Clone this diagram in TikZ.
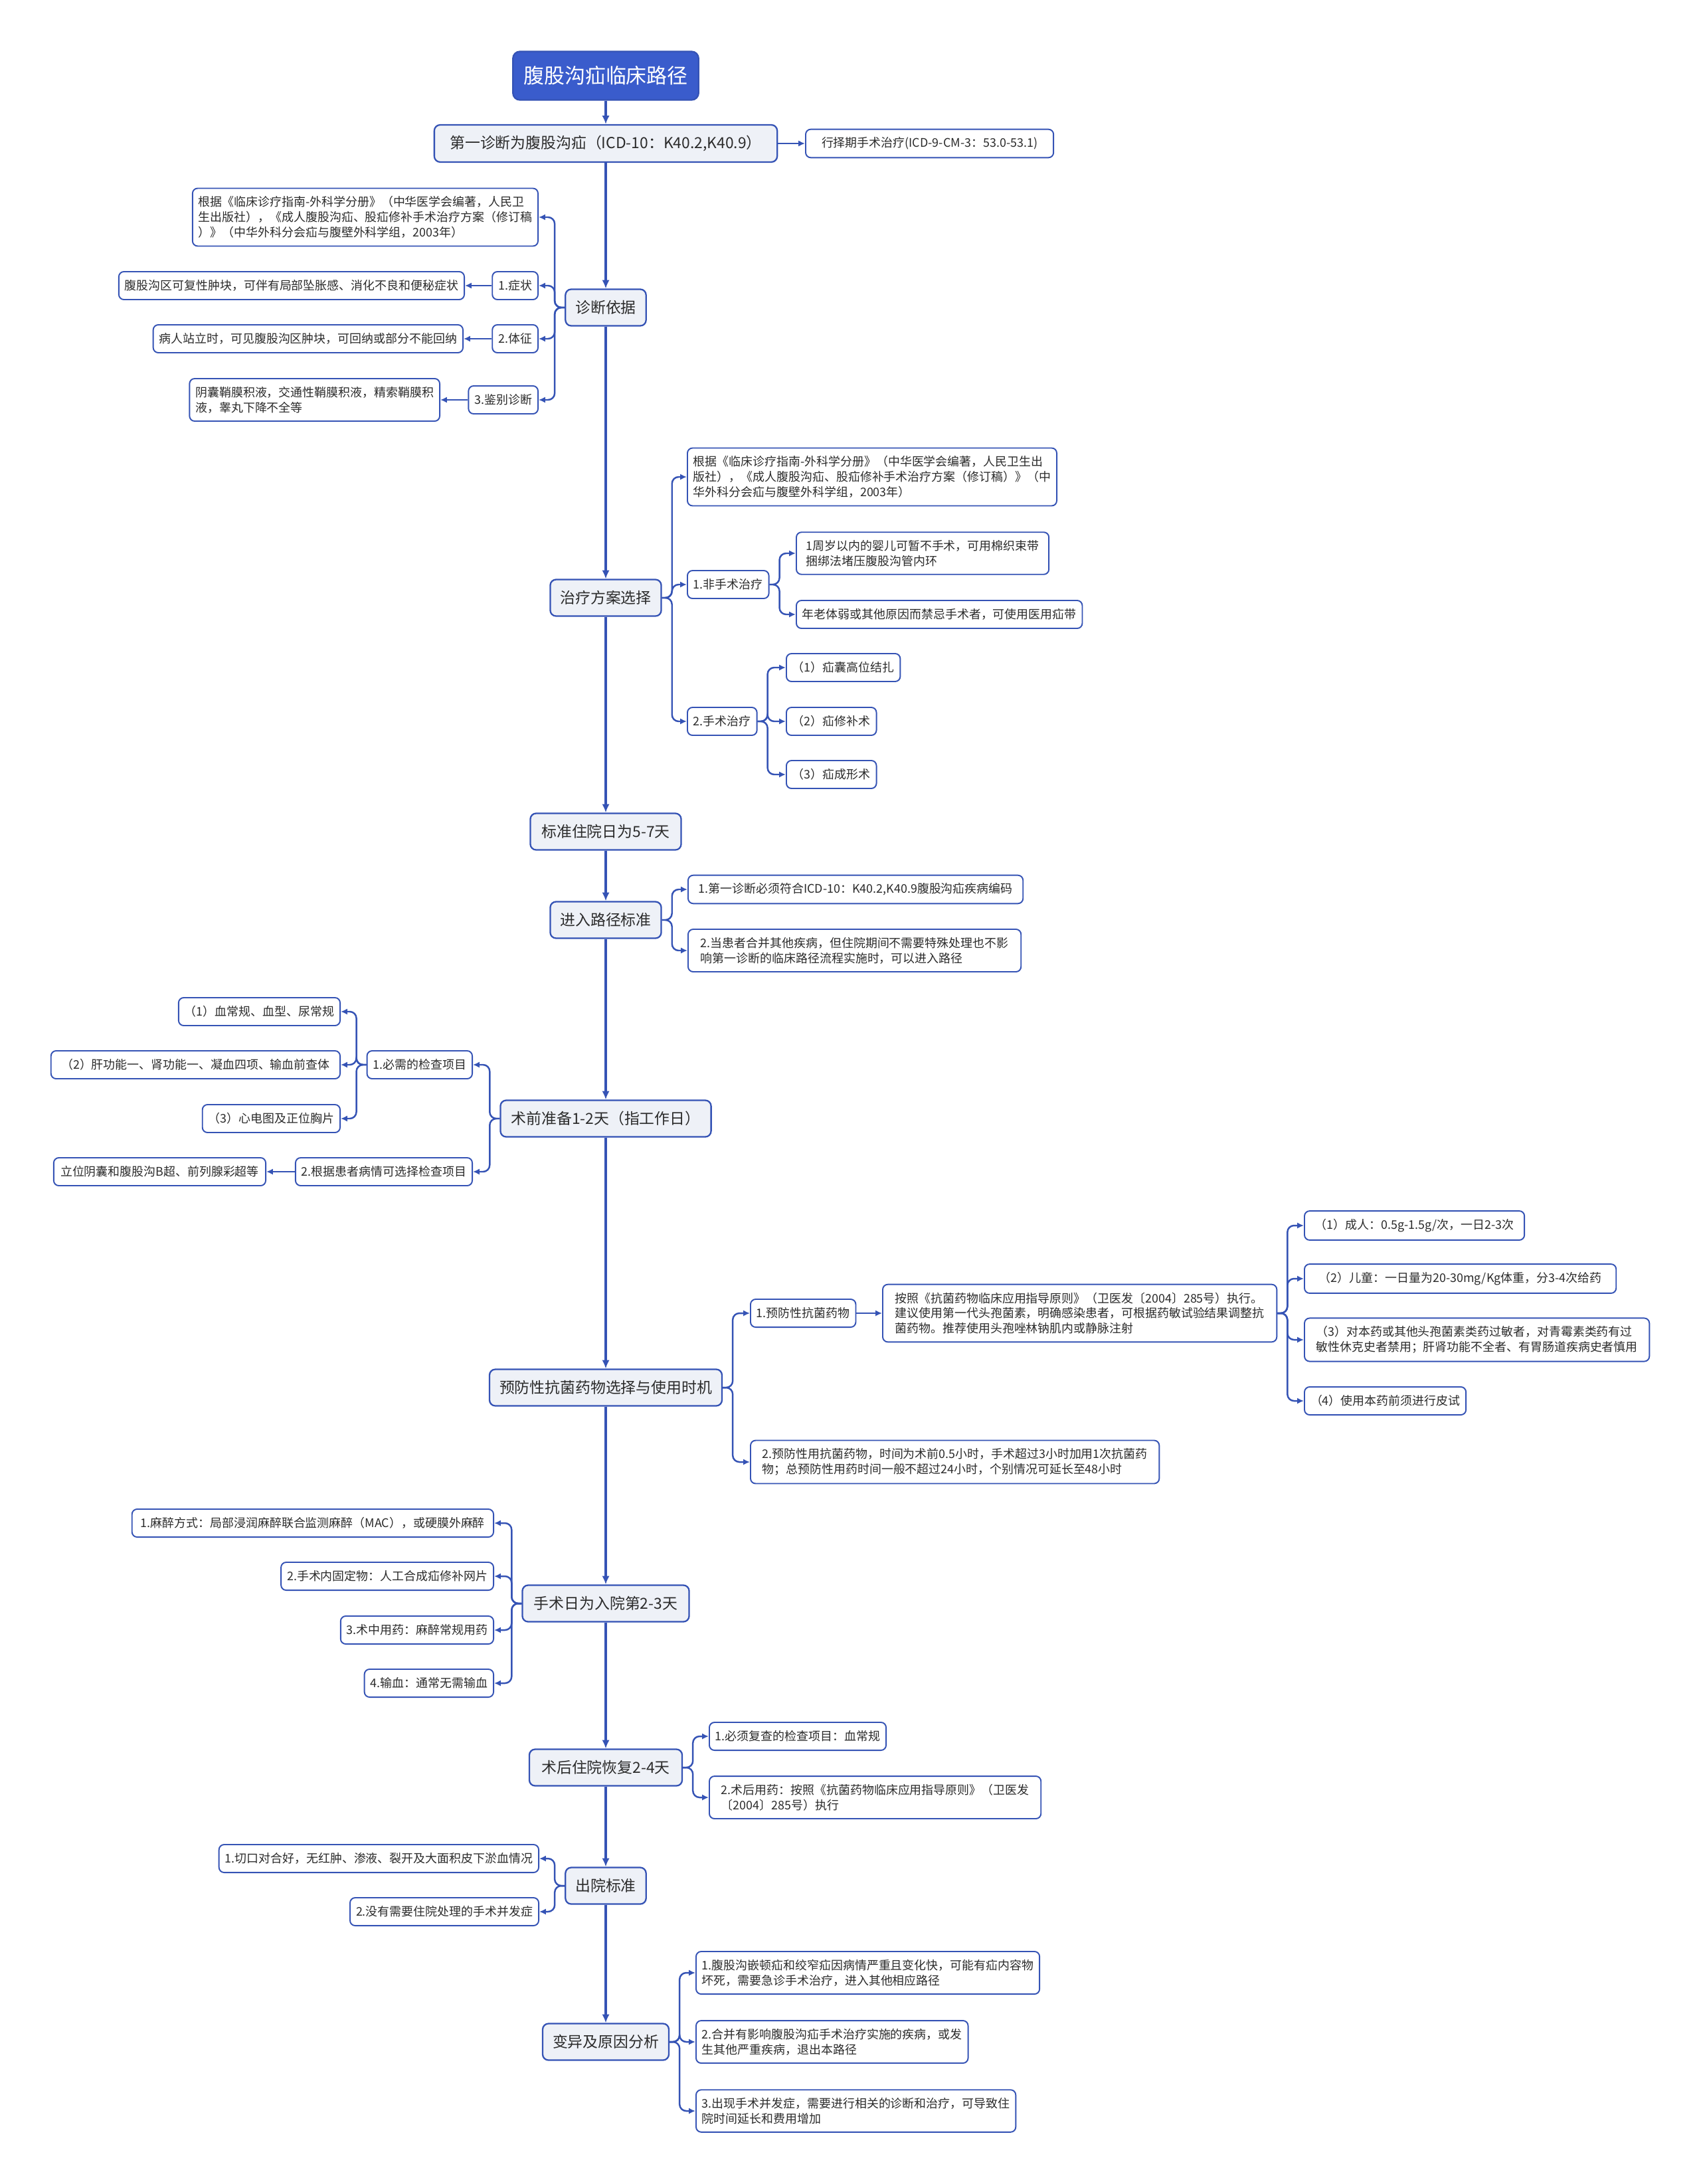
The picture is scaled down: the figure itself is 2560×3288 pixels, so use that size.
\documentclass[tikz,border=0pt]{standalone}
\usepackage{fontspec}
\setmainfont{Noto Sans CJK SC}
\usepackage{tikz}
\usetikzlibrary{arrows.meta}
\definecolor{hp-blue}{HTML}{3553B5}
\definecolor{hp-title}{HTML}{3A5CCC}
\definecolor{hp-fill}{HTML}{EEF1F7}
\definecolor{hp-text}{HTML}{2B2B2B}

\begin{document}
\begin{tikzpicture}[x=0.01cm, y=-0.01cm,
    leafbox/.style={draw=hp-blue, line width=0.55pt, fill=white, rounded corners=2.2pt,
        font=\fontsize{5.1pt}{6.5pt}\selectfont, text=hp-text, align=left,
        inner xsep=0.09cm, inner ysep=0.12cm, minimum height=0.42cm},
    mainbox/.style={draw=hp-blue, line width=0.65pt, fill=hp-fill, rounded corners=2.5pt,
        font=\fontsize{6.5pt}{8pt}\selectfont, text=hp-text,
        inner xsep=0.15cm, inner ysep=0.16cm, minimum height=0.55cm},
    titlebox/.style={draw=hp-blue, line width=0.65pt, fill=hp-title, rounded corners=3pt,
        font=\fontsize{8.8pt}{10pt}\selectfont, text=white,
        inner xsep=0.16cm, minimum height=0.73cm},
    trunk/.style={draw=hp-blue, line width=0.95pt, -{Latex[length=3.6pt,width=3.2pt]}},
    branch/.style={draw=hp-blue, line width=0.7pt, rounded corners=0.1cm,
        -{Latex[length=2.8pt,width=2.6pt]}}]
    \useasboundingbox[fill=white] (0,0) rectangle (2560,3288);

    % trunk nodes
    \node[titlebox] (title) at (912,114) {腹股沟疝临床路径};
    \node[mainbox, minimum width=5.16cm] (first) at (912,216) {第一诊断为腹股沟疝（ICD-10：K40.2,K40.9）};
    \node[leafbox, anchor=west, minimum width=3.73cm] (firstR) at (1212,216) {行择期手术治疗(ICD-9-CM-3：53.0-53.1)};
    \node[mainbox] (zd) at (912,463) {诊断依据};
    \node[mainbox] (zl) at (912,900) {治疗方案选择};
    \node[mainbox, minimum width=2.27cm] (bz) at (912,1252) {标准住院日为5-7天};
    \node[mainbox] (lj) at (912,1385) {进入路径标准};
    \node[mainbox, minimum width=3.17cm] (sq) at (912,1684) {术前准备1-2天（指工作日）};
    \node[mainbox] (yf) at (912,2089) {预防性抗菌药物选择与使用时机};
    \node[mainbox, minimum width=2.51cm] (ss) at (912,2414) {手术日为入院第2-3天};
    \node[mainbox, minimum width=2.3cm] (sh) at (912,2661) {术后住院恢复2-4天};
    \node[mainbox] (cy) at (912,2839) {出院标准};
    \node[mainbox] (by) at (912,3074) {变异及原因分析};

    % diagnosis basis (left side)
    \node[leafbox, anchor=east] (zd0) at (811,327) {根据《临床诊疗指南-外科学分册》（中华医学会编著，人民卫\\生出版社），《成人腹股沟疝、股疝修补手术治疗方案（修订稿\\）》（中华外科分会疝与腹壁外科学组，2003年）};
    \node[leafbox, anchor=east] (zd1) at (811,430) {1.症状};
    \node[leafbox, anchor=east] (zd1a) at (700,430) {腹股沟区可复性肿块，可伴有局部坠胀感、消化不良和便秘症状};
    \node[leafbox, anchor=east] (zd2) at (811,510) {2.体征};
    \node[leafbox, anchor=east] (zd2a) at (698,510) {病人站立时，可见腹股沟区肿块，可回纳或部分不能回纳};
    \node[leafbox, anchor=east] (zd3) at (811,602) {3.鉴别诊断};
    \node[leafbox, anchor=east] (zd3a) at (663,602) {阴囊鞘膜积液，交通性鞘膜积液，精索鞘膜积\\液，睾丸下降不全等};

    % treatment choice
    \node[leafbox, anchor=west] (zl0) at (1034,718) {根据《临床诊疗指南-外科学分册》（中华医学会编著，人民卫生出\\版社），《成人腹股沟疝、股疝修补手术治疗方案（修订稿）》（中\\华外科分会疝与腹壁外科学组，2003年）};
    \node[leafbox, anchor=west] (zl1) at (1034,880) {1.非手术治疗};
    \node[leafbox, anchor=west, minimum width=3.8cm] (zl1a) at (1198,833) {1周岁以内的婴儿可暂不手术，可用棉织束带\\捆绑法堵压腹股沟管内环};
    \node[leafbox, anchor=west] (zl1b) at (1198,925) {年老体弱或其他原因而禁忌手术者，可使用医用疝带};
    \node[leafbox, anchor=west] (zl2) at (1034,1086) {2.手术治疗};
    \node[leafbox, anchor=west] (zl2a) at (1183,1005) {（1）疝囊高位结扎};
    \node[leafbox, anchor=west] (zl2b) at (1183,1086) {（2）疝修补术};
    \node[leafbox, anchor=west] (zl2c) at (1183,1166) {（3）疝成形术};

    % entry criteria
    \node[leafbox, anchor=west, minimum width=5.04cm] (lj1) at (1035,1339) {1.第一诊断必须符合ICD-10：K40.2,K40.9腹股沟疝疾病编码};
    \node[leafbox, anchor=west, minimum width=5.01cm] (lj2) at (1035,1431) {2.当患者合并其他疾病，但住院期间不需要特殊处理也不影\\响第一诊断的临床路径流程实施时，可以进入路径};

    % pre-operative preparation (left side)
    \node[leafbox, anchor=east] (sq1) at (712,1603) {1.必需的检查项目};
    \node[leafbox, anchor=east] (sq1a) at (513,1523) {（1）血常规、血型、尿常规};
    \node[leafbox, anchor=east, minimum width=4.35cm] (sq1b) at (513,1603) {（2）肝功能一、肾功能一、凝血四项、输血前查体};
    \node[leafbox, anchor=east] (sq1c) at (513,1684) {（3）心电图及正位胸片};
    \node[leafbox, anchor=east] (sq2) at (712,1764) {2.根据患者病情可选择检查项目};
    \node[leafbox, anchor=east, minimum width=3.19cm] (sq2a) at (401,1764) {立位阴囊和腹股沟B超、前列腺彩超等};

    % prophylactic antibiotics
    \node[leafbox, anchor=west] (yf1) at (1129,1977) {1.预防性抗菌药物};
    \node[leafbox, anchor=west, minimum width=5.93cm] (yf1a) at (1328,1977) {按照《抗菌药物临床应用指导原则》（卫医发〔2004〕285号）执行。\\建议使用第一代头孢菌素，明确感染患者，可根据药敏试验结果调整抗\\菌药物。推荐使用头孢唑林钠肌内或静脉注射};
    \node[leafbox, anchor=west, minimum width=3.31cm] (yf1a1) at (1963,1845) {（1）成人：0.5g-1.5g/次，一日2-3次};
    \node[leafbox, anchor=west, minimum width=4.69cm] (yf1a2) at (1963,1925) {（2）儿童：一日量为20-30mg/Kg体重，分3-4次给药};
    \node[leafbox, anchor=west, minimum width=5.19cm] (yf1a3) at (1963,2017) {（3）对本药或其他头孢菌素类药过敏者，对青霉素类药有过\\敏性休克史者禁用；肝肾功能不全者、有胃肠道疾病史者慎用};
    \node[leafbox, anchor=west] (yf1a4) at (1963,2109) {（4）使用本药前须进行皮试};
    \node[leafbox, anchor=west, minimum width=6.15cm] (yf2) at (1129,2201) {2.预防性用抗菌药物，时间为术前0.5小时，手术超过3小时加用1次抗菌药\\物；总预防性用药时间一般不超过24小时，个别情况可延长至48小时};

    % operation day (left side)
    \node[leafbox, anchor=east, minimum width=5.44cm] (ss1) at (744,2293) {1.麻醉方式：局部浸润麻醉联合监测麻醉（MAC），或硬膜外麻醉};
    \node[leafbox, anchor=east] (ss2) at (744,2373) {2.手术内固定物：人工合成疝修补网片};
    \node[leafbox, anchor=east] (ss3) at (744,2454) {3.术中用药：麻醉常规用药};
    \node[leafbox, anchor=east] (ss4) at (744,2534) {4.输血：通常无需输血};

    % post-operative stay
    \node[leafbox, anchor=west] (sh1) at (1067,2614) {1.必须复查的检查项目：血常规};
    \node[leafbox, anchor=west, minimum width=4.99cm] (sh2) at (1067,2706) {2.术后用药：按照《抗菌药物临床应用指导原则》（卫医发\\〔2004〕285号）执行};

    % discharge criteria (left side)
    \node[leafbox, anchor=east] (cy1) at (812,2798) {1.切口对合好，无红肿、渗液、裂开及大面积皮下淤血情况};
    \node[leafbox, anchor=east] (cy2) at (812,2878) {2.没有需要住院处理的手术并发症};

    % variation analysis
    \node[leafbox, anchor=west] (by1) at (1047,2970) {1.腹股沟嵌顿疝和绞窄疝因病情严重且变化快，可能有疝内容物\\坏死，需要急诊手术治疗，进入其他相应路径};
    \node[leafbox, anchor=west] (by2) at (1047,3074) {2.合并有影响腹股沟疝手术治疗实施的疾病，或发\\生其他严重疾病，退出本路径};
    \node[leafbox, anchor=west] (by3) at (1047,3178) {3.出现手术并发症，需要进行相关的诊断和治疗，可导致住\\院时间延长和费用增加};

    % connectors
    \foreach \a/\b in {title/first, first/zd, zd/zl, zl/bz, bz/lj, lj/sq, sq/yf, yf/ss, ss/sh, sh/cy, cy/by}
        \draw[trunk] (\a.south) -- (\b.north);
    \foreach \p/\c in {zl/zl0, zl/zl1, zl/zl2, zl1/zl1a, zl1/zl1b, zl2/zl2a, zl2/zl2b, zl2/zl2c,
        lj/lj1, lj/lj2, yf/yf1, yf/yf2, yf1a/yf1a1, yf1a/yf1a2, yf1a/yf1a3, yf1a/yf1a4,
        sh/sh1, sh/sh2, by/by1, by/by2, by/by3}
        \draw[branch] (\p.east) -- ++(15,0) |- (\c.west);
    \foreach \p/\c in {zd/zd0, zd/zd1, zd/zd2, zd/zd3, sq/sq1, sq/sq2, sq1/sq1a, sq1/sq1b, sq1/sq1c,
        ss/ss1, ss/ss2, ss/ss3, ss/ss4, cy/cy1, cy/cy2}
        \draw[branch] (\p.west) -- ++(-15,0) |- (\c.east);
    \draw[branch] (first.east) -- (firstR.west);
    \draw[branch] (yf1.east) -- (yf1a.west);
    \foreach \p/\c in {zd1/zd1a, zd2/zd2a, zd3/zd3a, sq2/sq2a}
        \draw[branch] (\p.west) -- (\c.east);
\end{tikzpicture}
\end{document}
